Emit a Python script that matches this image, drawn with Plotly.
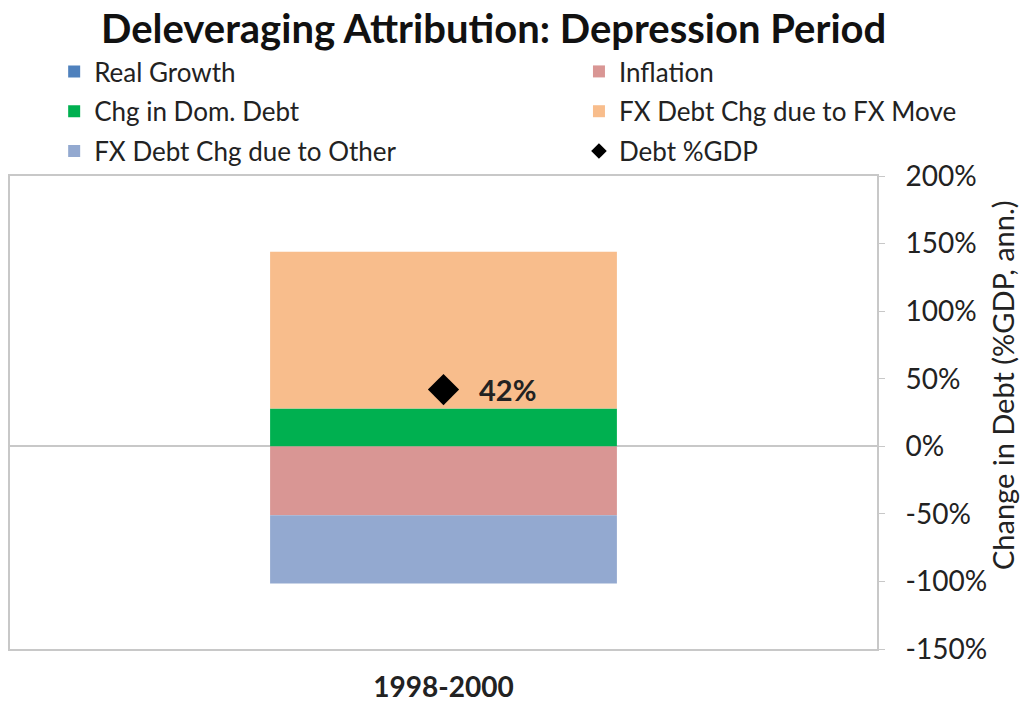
import plotly.graph_objects as go

# ================== DATA ==================
period = ["1998-2000"]
real_growth = [0]
inflation = [-51]
dom_debt = [28]
fx_move = [116]
fx_other = [-50.5]
debt_gdp = [42]
debt_gdp_label = ["42%"]

y_ticks = [-150, -100, -50, 0, 50, 100, 150, 200]

FONT = "Lato"
GRAY = "#c8c8c8"

fig = go.Figure()

# left legend column / right legend column
bars = [
    ("Real Growth", real_growth, "#4f81bd", "legend"),
    ("Inflation", inflation, "#d99694", "legend2"),
    ("Chg in Dom. Debt", dom_debt, "#00b050", "legend"),
    ("FX Debt Chg due to FX Move", fx_move, "#f8bd8c", "legend2"),
    ("FX Debt Chg due to Other", fx_other, "#93a9d0", "legend"),
]
for name, vals, col, lg in bars:
    fig.add_trace(go.Bar(x=period, y=vals, name=name, marker_color=col,
                         marker_line_width=0, width=0.4,
                         legend=lg, legendgroup=name))

fig.add_trace(go.Scatter(
    x=period, y=debt_gdp, name="Debt %GDP", mode="markers",
    marker=dict(symbol="diamond", size=24, color="black"),
    legend="legend2", legendgroup="Debt %GDP",
))

fig.add_annotation(x=period[0], y=debt_gdp[0], text="<b>" + debt_gdp_label[0] + "</b>",
                   showarrow=False, xanchor="left", xshift=33,
                   font=dict(family=FONT, size=29, color="#222"))

# right axis title (placed by hand, the chart has it off-centre)
fig.add_annotation(xref="paper", yref="paper", x=1, y=0.558, xshift=125,
                   text="Change in Debt (%GDP, ann.)", textangle=-90,
                   showarrow=False, xanchor="center", yanchor="middle",
                   font=dict(family=FONT, size=29, color="#222"))

leg = dict(orientation="v", xref="container", yref="container",
           y=0.9316, xanchor="left", yanchor="top", tracegroupgap=3,
           itemsizing="constant", bgcolor="rgba(0,0,0,0)",
           font=dict(family=FONT, size=26, color="#222"), itemwidth=30)

# ================== LAYOUT ==================
fig.update_layout(
    width=1022, height=702,
    barmode="relative",
    paper_bgcolor="white", plot_bgcolor="white",
    margin=dict(l=10, r=145, t=176, b=53, autoexpand=False),
    title=dict(text="<b>Deleveraging Attribution: Depression Period</b>",
               x=0.483, xanchor="center", y=0.958, yanchor="middle",
               font=dict(family=FONT, size=40, color="#111")),
    legend=dict(leg, x=0.053),
    legend2=dict(leg, x=0.5665),
    xaxis=dict(showline=True, linecolor=GRAY, linewidth=2, mirror=True,
               tickfont=dict(family=FONT, size=28, color="#222"),
               tickprefix="<b>", ticksuffix="</b>",
               ticks="", ticklabelstandoff=12),
    yaxis=dict(side="right", range=[-150, 200], tickvals=y_ticks,
               ticktext=[f"{v}%" for v in y_ticks],
               showline=True, linecolor=GRAY, linewidth=2, mirror=True,
               ticks="outside", ticklen=6, tickcolor=GRAY,
               showgrid=False, zeroline=True, zerolinecolor=GRAY, zerolinewidth=2,
               ticklabelstandoff=15,
               tickfont=dict(family=FONT, size=28, color="#222")),
)

fig.write_html("out.html", config={"displayModeBar": False},
               post_script="document.body.style.margin='0px';")
